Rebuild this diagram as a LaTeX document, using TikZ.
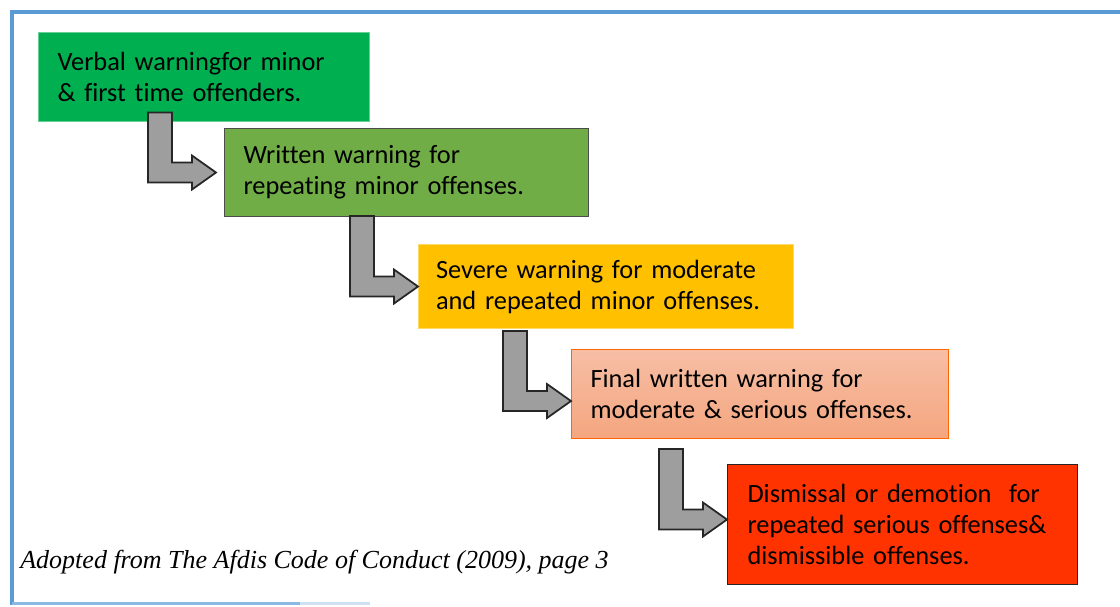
\documentclass[tikz,border=0pt]{standalone}
\usepackage{fontspec}
\setmainfont[Ligatures=NoCommon]{Carlito}
\newfontfamily\capfont{Liberation Serif}
\usetikzlibrary{calc}

\definecolor{frameblue}{HTML}{5B9BD5}
\definecolor{verbalgreen}{HTML}{00B050}
\definecolor{writtengreen}{HTML}{70AD47}
\definecolor{severeamber}{HTML}{FFC000}
\definecolor{finaltop}{HTML}{F7BEA5}
\definecolor{finalbottom}{HTML}{F4A67F}
\definecolor{dismissred}{HTML}{FF3300}
\definecolor{arrowgray}{HTML}{9E9E9E}

\tikzset{
  stage/.style={rectangle, anchor=north west, align=left, inner xsep=0.38cm,
    font=\fontsize{15}{17.6}\selectfont, line width=0.6pt},
  bent/.style={fill=arrowgray, draw=black!85, line width=1pt, line join=miter}
}

% #1 = how far the arrow starts above the upper box, #2 = upper box, #3 = tip
\newcommand{\bentarrow}[3]{%
  \draw[bent] let \p1 = (#2.south), \p2 = (#3) in
    ({\x2-1.36cm}, {\y1+(#1)}) -- ({\x2-0.88cm}, {\y1+(#1)})
    -- ({\x2-0.88cm}, {\y2+0.2cm}) -- ({\x2-0.48cm}, {\y2+0.2cm})
    -- ({\x2-0.48cm}, {\y2+0.34cm}) -- (\p2)
    -- ({\x2-0.48cm}, {\y2-0.34cm}) -- ({\x2-0.48cm}, {\y2-0.2cm})
    -- ({\x2-1.36cm}, {\y2-0.2cm}) -- cycle;
}

\begin{document}
\begin{tikzpicture}[x=0.02cm, y=-0.02cm]
  \useasboundingbox (0,0) rectangle (1120,606);

  % frame
  \draw [frameblue, line width=0.08cm] (12,605) -- (12,12) -- (1120,12);
  \draw [frameblue!70, line width=0.06cm] (12,603) -- (300,603);
  \draw [frameblue!30, line width=0.06cm] (300,603) -- (370,603);

  % stages
  \node (verbal) [stage, fill=verbalgreen, draw=verbalgreen!60!white,
    minimum width=6.62cm, minimum height=1.78cm, text width=5.86cm] at (38,32)
    {Verbal warningfor minor\\\& first time offenders.};
  \node (written) [stage, fill=writtengreen, draw=black!70,
    minimum width=7.28cm, minimum height=1.76cm, text width=6.52cm] at (224,128)
    {Written warning for\\repeating minor offenses.};
  \node (severe) [stage, fill=severeamber, draw=severeamber!60!white,
    minimum width=7.5cm, minimum height=1.68cm, text width=6.8cm, inner xsep=0.35cm] at (418,244)
    {Severe warning for moderate\\and repeated\ minor offenses.};
  \node (final) [stage, top color=finaltop, bottom color=finalbottom, draw=orange!80!red,
    minimum width=7.54cm, minimum height=1.78cm, text width=6.78cm] at (571,349)
    {Final written warning for\\moderate \& serious offenses.};
  \node (dismiss) [stage, fill=dismissred, draw=black!85,
    minimum width=7cm, minimum height=2.4cm, text width=6.2cm, inner xsep=0.4cm] at (727,464)
    {Dismissal or demotion\ \ for\\repeated serious offenses\&\\dismissible offenses.};

  % arrows between stages
  \bentarrow{0.19cm}{verbal}{[xshift=-0.16cm]written.west}
  \bentarrow{0.02cm}{written}{severe.west}
  \bentarrow{-0.04cm}{severe}{[yshift=-0.14cm]final.west}
  \bentarrow{-0.2cm}{final}{[yshift=0.1cm]dismiss.west}

  \node (source) [anchor=base west, font=\capfont\itshape\fontsize{14.8}{18}\selectfont,
    inner sep=0pt] at (20,568) {Adopted from The Afdis Code of Conduct (2009), page 3};
\end{tikzpicture}
\end{document}
